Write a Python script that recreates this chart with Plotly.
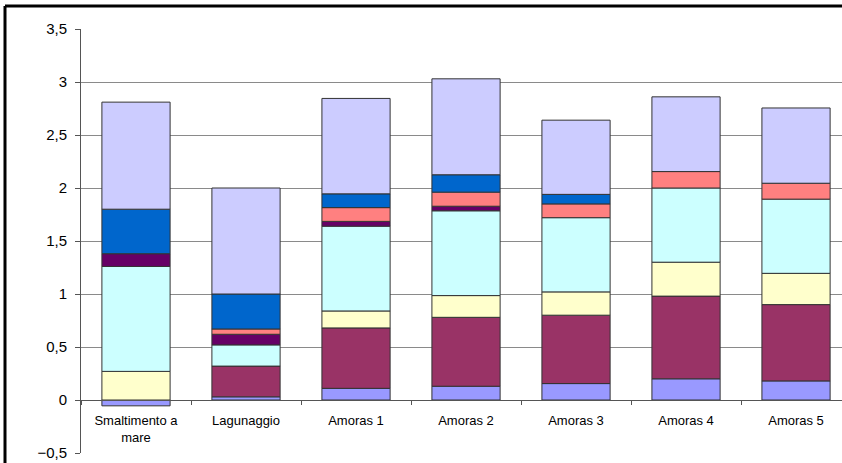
import plotly.graph_objects as go

categories = ["Smaltimento a<br>mare", "Lagunaggio", "Amoras 1", "Amoras 2",
              "Amoras 3", "Amoras 4", "Amoras 5"]

s1_periwinkle = [-0.055, 0.03, 0.11, 0.13, 0.155, 0.20, 0.18]
s2_plum       = [None, 0.29, 0.57, 0.65, 0.645, 0.78, 0.72]
s3_yellow     = [0.27, None, 0.16, 0.205, 0.22, 0.32, 0.295]
s4_cyan       = [0.99, 0.20, 0.80, 0.80, 0.70, 0.70, 0.70]
s5_purple     = [0.12, 0.10, 0.045, 0.043, None, None, None]
s6_salmon     = [None, 0.05, 0.13, 0.133, 0.13, 0.155, 0.15]
s7_blue       = [0.42, 0.33, 0.13, 0.164, 0.09, None, None]
s8_lavender   = [1.01, 1.00, 0.90, 0.905, 0.70, 0.705, 0.71]

y_ticks = [-0.5, 0, 0.5, 1, 1.5, 2, 2.5, 3, 3.5]

series = [
    ("Serie 1", s1_periwinkle, "#9999FF"),
    ("Serie 2", s2_plum, "#993366"),
    ("Serie 3", s3_yellow, "#FFFFCC"),
    ("Serie 4", s4_cyan, "#CCFFFF"),
    ("Serie 5", s5_purple, "#660066"),
    ("Serie 6", s6_salmon, "#FF8080"),
    ("Serie 7", s7_blue, "#0066CC"),
    ("Serie 8", s8_lavender, "#CCCCFF"),
]

fig = go.Figure()
for name, vals, col in series:
    fig.add_trace(go.Bar(
        x=categories, y=vals, name=name,
        marker=dict(color=col, line=dict(color="#333333", width=1)),
    ))

fig.update_layout(
    barmode="relative",
    bargap=0.38,
    width=842, height=463,
    margin=dict(l=81, r=0, t=29, b=10),
    paper_bgcolor="white", plot_bgcolor="white",
    showlegend=False,
    separators=",.",
    font=dict(family="Liberation Sans, Arial, sans-serif", color="#000000"),
    yaxis=dict(
        range=[-0.5, 3.5], tickvals=y_ticks,
        showgrid=True, gridcolor="#8a8a8a", gridwidth=1,
        zeroline=False,
        showline=True, linecolor="#555555", linewidth=1,
        ticks="outside", ticklen=5, tickcolor="#555555",
        tickfont=dict(size=15, color="#000000"),
        ticklabelstandoff=5,
    ),
    xaxis=dict(
        type="category",
        range=[-0.5, 6.418],
        anchor="free", position=0.125,
        showline=True, linecolor="#555555", linewidth=1,
        ticks="outside", ticklen=4, tickcolor="#555555",
        tickson="boundaries",
        tickfont=dict(size=13, color="#000000"),
        ticklabelstandoff=8,
        showgrid=False,
    ),
    shapes=[
        dict(type="line", xref="paper", yref="paper",
             x0=(5 - 81) / 761, x1=1.01, y0=(453 - 6) / 424, y1=(453 - 6) / 424,
             line=dict(color="black", width=3)),
        dict(type="line", xref="paper", yref="paper",
             x0=(5 - 81) / 761, x1=(5 - 81) / 761, y0=(453 - 6) / 424, y1=-0.05,
             line=dict(color="black", width=3)),
    ],
)

fig.write_html("out.html")
